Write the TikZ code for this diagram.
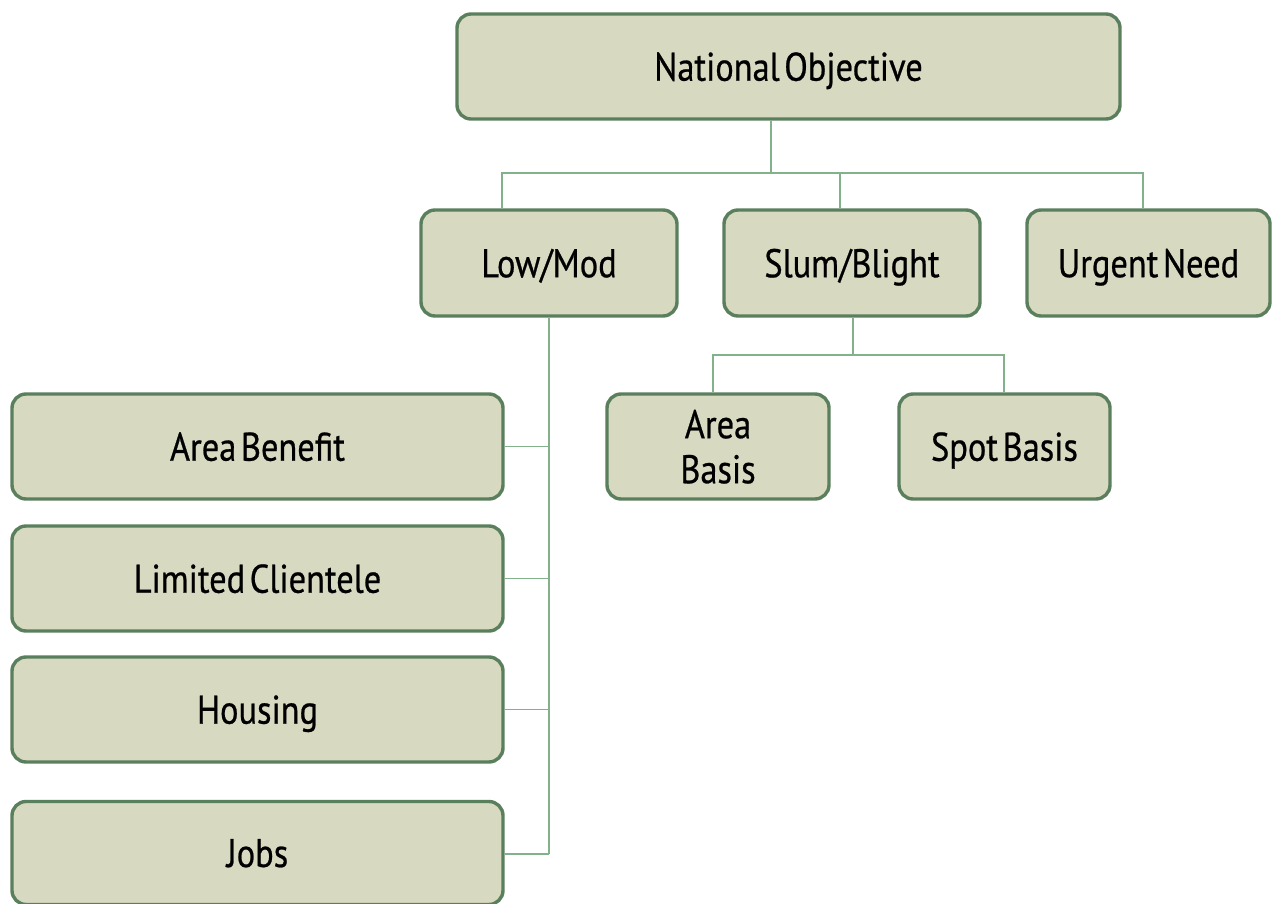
\documentclass[tikz,border=0pt]{standalone}
\usepackage{fontspec}
\setmainfont{PT Sans}[FakeStretch=0.86, FakeBold=0.6, WordSpace=0.5]
\usetikzlibrary{positioning}
\definecolor{boxfill}{HTML}{D8D9C1}
\definecolor{boxline}{HTML}{5A7F5C}
\definecolor{conn}{HTML}{82B18C}
\begin{document}
\begin{tikzpicture}[x=1pt,y=-1pt,
  box/.style={draw=boxline, fill=boxfill, line width=3.4pt, rounded corners=14pt,
    inner sep=0pt, align=center, text depth=0pt, font=\fontsize{40}{45}\selectfont},
  link/.style={draw=conn, line width=1.6pt}]
\useasboundingbox (0,0) rectangle (1272,904);
\node[box, minimum width=663pt, minimum height=105pt] (nat) at (788.5,66.5) {National Objective};
\node[box, minimum width=256pt, minimum height=106pt] (low) at (549,263) {Low/Mod};
\node[box, minimum width=256pt, minimum height=106pt] (slum) at (852,263) {Slum/Blight};
\node[box, minimum width=243pt, minimum height=106pt] (urg) at (1148.5,263) {Urgent Need};
\node[box, minimum width=222pt, minimum height=105pt] (ab) at (718,446.5) {Area\\Basis};
\node[box, minimum width=211pt, minimum height=105pt] (sb) at (1004.5,446.5) {Spot Basis};
\node[box, minimum width=491pt, minimum height=105pt] (aben) at (257.5,446.5) {Area Benefit};
\node[box, minimum width=491pt, minimum height=105pt] (lc) at (257.5,578.5) {Limited Clientele};
\node[box, minimum width=491pt, minimum height=105pt] (hou) at (257.5,709.5) {Housing};
\node[box, minimum width=491pt, minimum height=103pt] (jobs) at (257.5,853) {Jobs};
% top level connectors
\coordinate (nj) at (771,173);
\draw[link] (nat.south -| nj) -- (nj);
\draw[link] (low.north -| 502,0) |- (nj) -| (urg.north -| 1143,0);
\draw[link] (nj) -| (slum.north -| 840,0);
% slum connectors
\coordinate (sj) at (853,355);
\draw[link] (slum.south -| sj) -- (sj);
\draw[link] (ab.north -| 713,0) |- (sj) -| (sb.north -| 1004,0);
% low/mod connectors
\coordinate (lj) at (549,854);
\draw[link] (low.south -| lj) -- (lj);
\draw[link] (aben.east) -- (aben.east -| lj);
\draw[link] (lc.east) -- (lc.east -| lj);
\draw[link] (hou.east) -- (hou.east -| lj);
\draw[link] (jobs.east |- lj) -- (lj);
\end{tikzpicture}
\end{document}
